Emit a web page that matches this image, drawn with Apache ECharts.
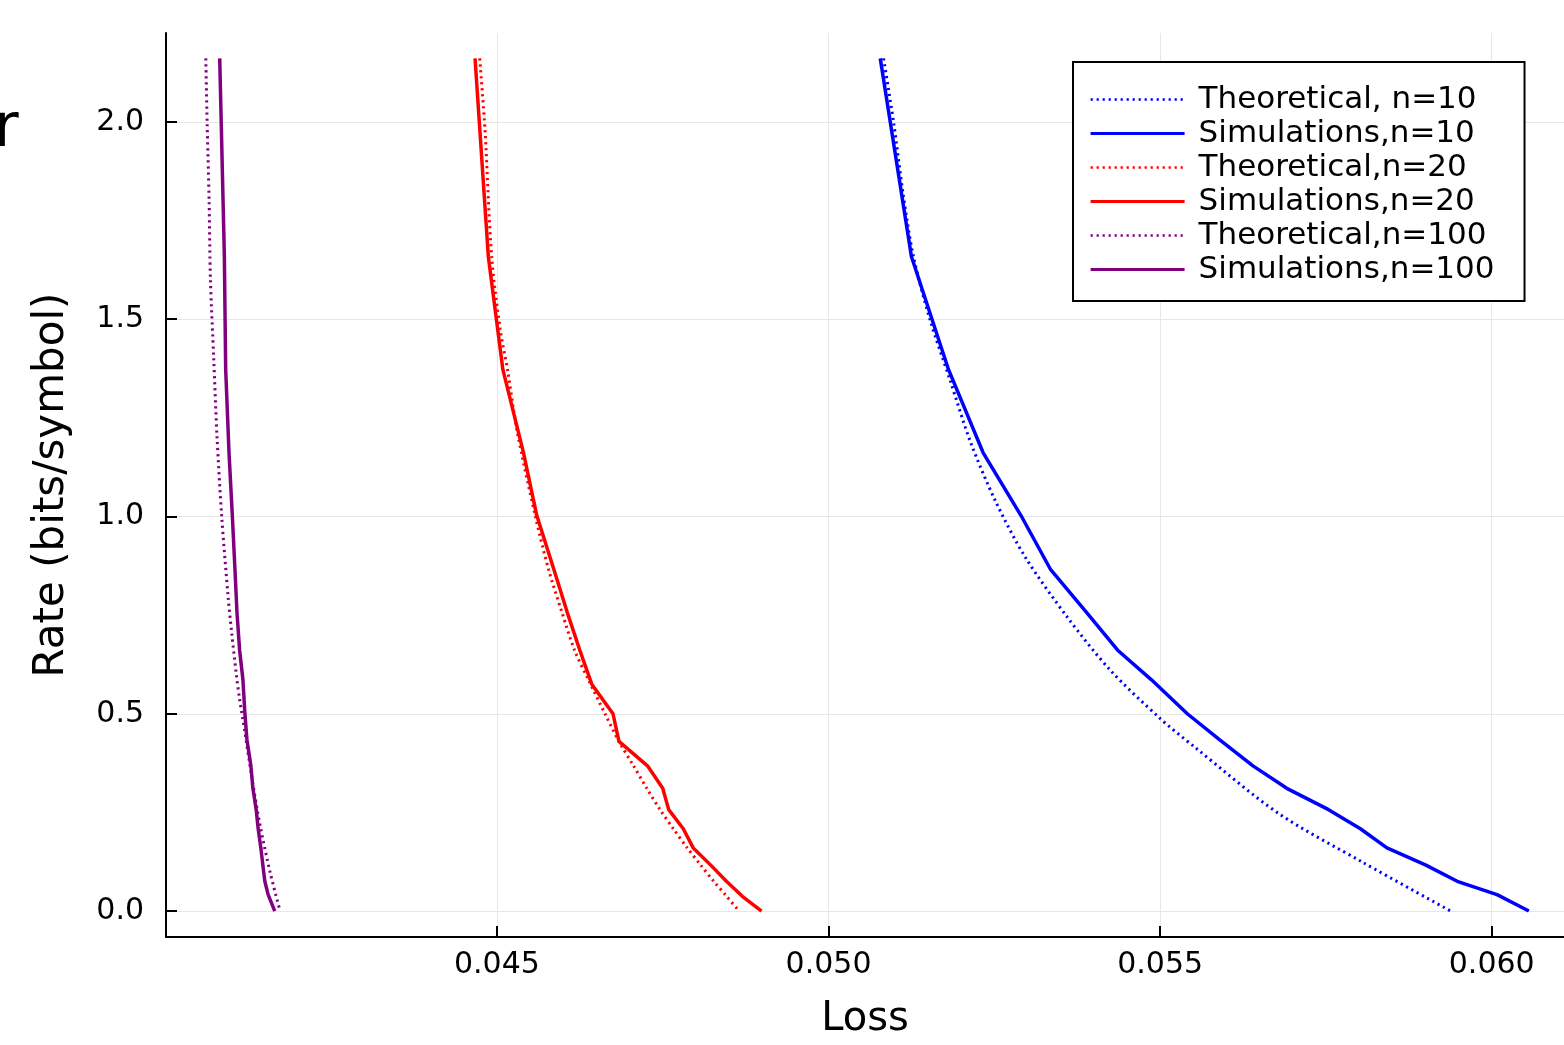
<!DOCTYPE html>
<html>
<head>
<meta charset="utf-8">
<script src="https://cdn.jsdelivr.net/npm/echarts@6/dist/echarts.min.js"></script>
<style>
html,body{margin:0;padding:0;background:#fff;}
#chart{width:1564px;height:1045px;}
</style>
</head>
<body>
<div id="chart"></div>
<script>
// ---- data ----
const rateSim = [2.161, 1.659, 1.372, 1.162, 1.003, 0.865, 0.757, 0.661, 0.586, 0.500, 0.435, 0.368, 0.311, 0.257, 0.2085, 0.160, 0.117, 0.0754, 0.0417, 0.0];
const lossSim10 = [0.05078, 0.05125, 0.05181, 0.05233, 0.05290, 0.05335, 0.05389, 0.05436, 0.05487, 0.05541, 0.05589, 0.05640, 0.05691, 0.05754, 0.05802, 0.05842, 0.05900, 0.05948, 0.06008, 0.06056];
const rateSim20 = [2.161, 1.659, 1.372, 1.162, 1.003, 0.865, 0.757, 0.661, 0.575, 0.500, 0.430, 0.368, 0.311, 0.257, 0.2085, 0.160, 0.117, 0.0754, 0.0373, 0.0];
const lossSim20 = [0.04467, 0.04487, 0.04509, 0.04540, 0.04560, 0.04586, 0.04606, 0.04625, 0.04643, 0.04675, 0.04684, 0.04727, 0.04750, 0.04759, 0.04781, 0.04796, 0.04822, 0.04846, 0.04870, 0.04899];
const lossSim100 = [0.04082, 0.04089, 0.04091, 0.04096, 0.04101, 0.04105, 0.04108, 0.04112, 0.04117, 0.04120, 0.04123, 0.04129, 0.04132, 0.04137, 0.04140, 0.04144, 0.04147, 0.04150, 0.04155, 0.04165];

const rateTheo10 = [2.161, 2.0, 1.811, 1.659, 1.499, 1.347, 1.189, 1.038, 0.896, 0.745, 0.612, 0.488, 0.417, 0.248, 0.124, 0.0];
const lossTheo10 = [0.05083, 0.05098, 0.05113, 0.05128, 0.05153, 0.05183, 0.05214, 0.05252, 0.05297, 0.05360, 0.05424, 0.05500, 0.05551, 0.05678, 0.05805, 0.05938];
const rateTheo20 = [2.161, 1.98, 1.659, 1.473, 1.372, 1.22, 1.0, 0.865, 0.757, 0.661, 0.586, 0.5, 0.43, 0.368, 0.311, 0.257, 0.2085, 0.16, 0.117, 0.075, 0.042, 0.0];
const lossTheo20 = [0.04474, 0.04482, 0.04492, 0.04505, 0.04516, 0.04530, 0.04558, 0.04578, 0.04598, 0.04617, 0.04638, 0.04663, 0.04684, 0.04706, 0.04726, 0.04746, 0.04766, 0.04787, 0.04807, 0.04827, 0.04844, 0.04865];
const rateTheo100 = [2.161, 2.0, 1.8, 1.6, 1.4, 1.2, 1.0, 0.79, 0.706, 0.6, 0.537, 0.453, 0.343, 0.216, 0.098, 0.0];
const lossTheo100 = [0.04061, 0.04063, 0.04066, 0.04068, 0.04073, 0.04078, 0.04085, 0.04095, 0.04100, 0.04107, 0.04112, 0.04120, 0.04130, 0.04143, 0.04158, 0.04173];

const xTicks = [0.045, 0.050, 0.055, 0.060];
const yTicks = [0.0, 0.5, 1.0, 1.5, 2.0];
const seriesNames = ['Theoretical, n=10', 'Simulations,n=10', 'Theoretical,n=20', 'Simulations,n=20', 'Theoretical,n=100', 'Simulations,n=100'];

// ---- build ----
const zip = (xs, ys) => xs.map((x, i) => [x, ys[i]]);
const FONT = 'DejaVu Sans';
const dotted = [2.2, 3.8];

function mk(name, xs, ys, color, isDotted) {
  return {
    name: name,
    type: 'line',
    data: zip(xs, ys),
    showSymbol: false,
    symbol: 'none',
    smooth: isDotted ? 0.3 : false,
    lineStyle: isDotted ? { color: color, width: 3, type: dotted } : { color: color, width: 3.5, type: 'solid' },
    itemStyle: { color: color },
    emphasis: { disabled: true },
    animation: false
  };
}

const legendData = seriesNames.map((n, i) => ({
  name: n,
  lineStyle: { width: i % 2 === 0 ? 2.5 : 3.2 }
}));

const chart = echarts.init(document.getElementById('chart'), null, { renderer: 'canvas' });
chart.setOption({
  backgroundColor: '#ffffff',
  animation: false,
  textStyle: { fontFamily: FONT },
  grid: { left: 166, right: 0, top: 33, bottom: 107, containLabel: false },
  graphic: [{
    type: 'text', x: -6, y: 160,
    style: { text: 'r', font: '60px "DejaVu Sans"', fill: '#000', textVerticalAlign: 'bottom' }
  }],
  legend: {
    orient: 'vertical',
    left: 1073, top: 62,
    data: legendData,
    itemWidth: 94, itemHeight: 14, itemGap: 3,
    padding: [22, 30, 16, 16],
    borderColor: '#000', borderWidth: 2, backgroundColor: '#fff',
    itemStyle: { opacity: 0 },
    textStyle: { fontFamily: FONT, fontSize: 31, color: '#000', lineHeight: 31, padding: [0, 0, 0, 9] },
    selectedMode: false
  },
  xAxis: {
    type: 'value', min: 0.04001, max: 0.06109,
    name: 'Loss', nameLocation: 'middle', nameGap: 63,
    nameTextStyle: { fontFamily: FONT, fontSize: 40, color: '#000' },
    axisLine: { show: true, onZero: false, lineStyle: { color: '#000', width: 2 } },
    axisTick: { show: true, inside: true, length: 11, customValues: xTicks, lineStyle: { color: '#000', width: 2 } },
    axisLabel: { customValues: xTicks, margin: 13, fontFamily: FONT, fontSize: 30, color: '#000', formatter: v => v.toFixed(3) },
    splitLine: { show: true, lineStyle: { color: '#e6e6e6', width: 1 } }
  },
  yAxis: {
    type: 'value', min: -0.0658, max: 2.2253,
    name: 'Rate (bits/symbol)', nameLocation: 'middle', nameGap: 93, nameRotate: 90,
    nameTextStyle: { fontFamily: FONT, fontSize: 42, color: '#000' },
    axisLine: { show: true, onZero: false, lineStyle: { color: '#000', width: 2 } },
    axisTick: { show: true, inside: true, length: 11, customValues: yTicks, lineStyle: { color: '#000', width: 2 } },
    axisLabel: { customValues: yTicks, margin: 22, fontFamily: FONT, fontSize: 30, color: '#000', formatter: v => v.toFixed(1) },
    splitLine: { show: true, lineStyle: { color: '#e6e6e6', width: 1 } }
  },
  series: [
    mk(seriesNames[0], lossTheo10, rateTheo10, '#0000ff', true),
    mk(seriesNames[1], lossSim10, rateSim, '#0000ff', false),
    mk(seriesNames[2], lossTheo20, rateTheo20, '#ff0000', true),
    mk(seriesNames[3], lossSim20, rateSim20, '#ff0000', false),
    mk(seriesNames[4], lossTheo100, rateTheo100, '#800080', true),
    mk(seriesNames[5], lossSim100, rateSim, '#800080', false)
  ]
});
</script>
</body>
</html>
